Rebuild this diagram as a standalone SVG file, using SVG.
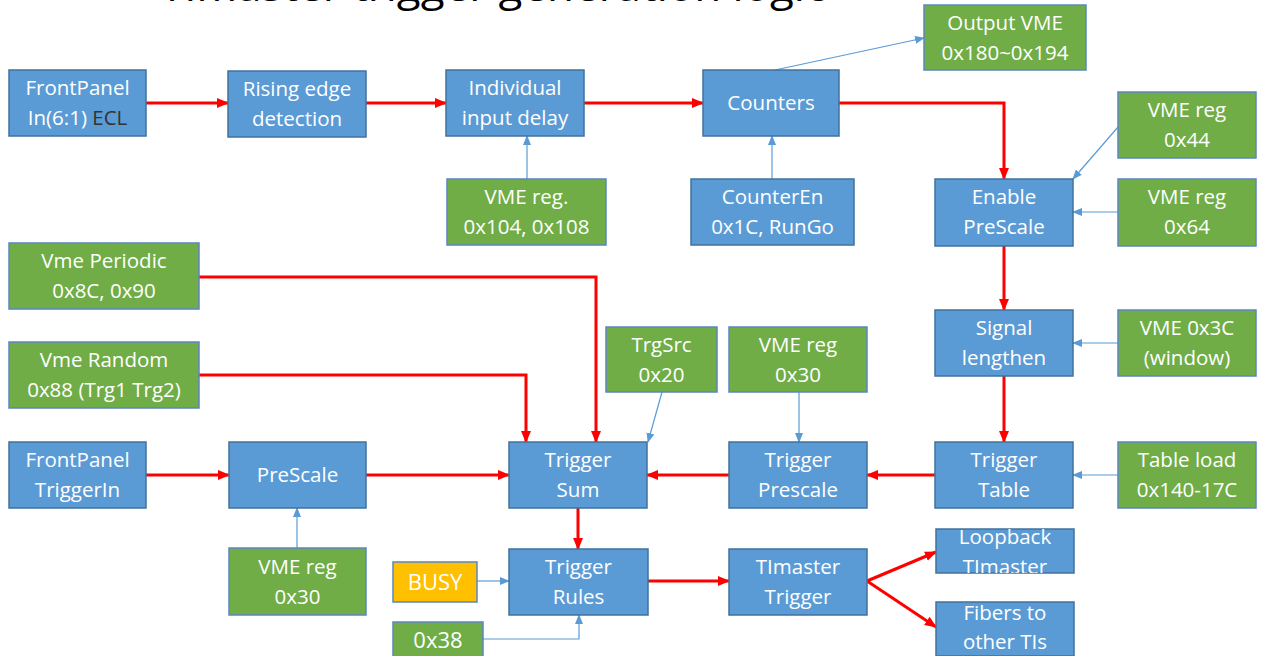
<svg xmlns="http://www.w3.org/2000/svg" width="1261" height="656" viewBox="0 0 1261 656">
<style>
.b{fill:#5B9BD5;stroke:#41719C;stroke-width:1.5}
.g{fill:#70AD47;stroke:#5B86C0;stroke-width:1.5}
.o{fill:#FFC000;stroke:#5B86C0;stroke-width:1.5}
.t{font-family:"Open Sans","Liberation Sans",sans-serif;font-size:20.5px;fill:#fff;text-anchor:middle}
.r{fill:none;stroke:#FF0000;stroke-width:3}
.l{fill:none;stroke:#5B9BD5;stroke-width:1.2}
.title{font-family:"Open Sans","Liberation Sans",sans-serif;font-size:40px;fill:#000}
</style>
<defs>
<marker id="ra" markerUnits="userSpaceOnUse" markerWidth="12" markerHeight="12" viewBox="0 0 12 12" refX="11" refY="6" orient="auto"><path d="M0,1 L12,6 L0,11 Z" fill="#FF0000"/></marker>
<marker id="ba" markerUnits="userSpaceOnUse" markerWidth="10" markerHeight="10" viewBox="0 0 10 10" refX="9" refY="5" orient="auto"><path d="M0,1 L10,5 L0,9 Z" fill="#5B9BD5"/></marker>
<clipPath id="cLoop"><rect x="936" y="529" width="138" height="44"/></clipPath>
<clipPath id="cFib"><rect x="936" y="602" width="138" height="54"/></clipPath>
</defs>
<rect width="1261" height="656" fill="#fff"/>
<text class="title" x="160" y="0.5" textLength="666" lengthAdjust="spacingAndGlyphs">TImaster trigger generation logic</text>

<g id="connectors">
<path class="r" marker-end="url(#ra)" d="M146,103 H228"/>
<path class="r" marker-end="url(#ra)" d="M366,103 H446"/>
<path class="r" marker-end="url(#ra)" d="M584,103 H703"/>
<path class="r" marker-end="url(#ra)" d="M839,103 H1004 V179"/>
<path class="r" marker-end="url(#ra)" d="M1004,246 V310"/>
<path class="r" marker-end="url(#ra)" d="M1004,376 V442"/>
<path class="r" marker-end="url(#ra)" d="M935,475 H867"/>
<path class="r" marker-end="url(#ra)" d="M729,475 H647"/>
<path class="r" marker-end="url(#ra)" d="M199,277 H596 V442"/>
<path class="r" marker-end="url(#ra)" d="M199,375 H526 V442"/>
<path class="r" marker-end="url(#ra)" d="M146,475 H229"/>
<path class="r" marker-end="url(#ra)" d="M366,475 H509"/>
<path class="r" marker-end="url(#ra)" d="M578,508 V549"/>
<path class="r" marker-end="url(#ra)" d="M648,581 H729"/>
<path class="r" marker-end="url(#ra)" d="M867,581 L936,552"/>
<path class="r" marker-end="url(#ra)" d="M867,581 L936,627"/>
<path class="l" marker-end="url(#ba)" d="M775,70 L924,38"/>
<path class="l" marker-end="url(#ba)" d="M527,179 V136"/>
<path class="l" marker-end="url(#ba)" d="M772,179 V136"/>
<path class="l" marker-end="url(#ba)" d="M1118,127 L1073,179"/>
<path class="l" marker-end="url(#ba)" d="M1118,212 H1073"/>
<path class="l" marker-end="url(#ba)" d="M1118,343 H1073"/>
<path class="l" marker-end="url(#ba)" d="M1118,475 H1073"/>
<path class="l" marker-end="url(#ba)" d="M662,392 L648,442"/>
<path class="l" marker-end="url(#ba)" d="M799,392 V442"/>
<path class="l" marker-end="url(#ba)" d="M297,548 V508"/>
<path class="l" marker-end="url(#ba)" d="M477,581 H509"/>
<path class="l" marker-end="url(#ba)" d="M483,639 H579 V615"/>
</g>

<g id="fp_in"><rect class="b" x="9" y="70" width="137" height="66"/><text class="t" x="77.5" y="95">FrontPanel</text><text class="t" x="77.5" y="125">In(6:1) <tspan fill="#333">ECL</tspan></text></g>
<g id="rising"><rect class="b" x="228" y="71" width="138" height="66"/><text class="t" x="297" y="96">Rising edge</text><text class="t" x="297" y="126">detection</text></g>
<g id="indiv"><rect class="b" x="446" y="70" width="138" height="66"/><text class="t" x="515" y="95">Individual</text><text class="t" x="515" y="125">input delay</text></g>
<g id="counters"><rect class="b" x="703" y="70" width="136" height="66"/><text class="t" x="771" y="110">Counters</text></g>
<g id="outvme"><rect class="g" x="924" y="5" width="162" height="65"/><text class="t" x="1005" y="30">Output VME</text><text class="t" x="1005" y="60">0x180~0x194</text></g>
<g id="vme104"><rect class="g" x="447" y="179" width="159" height="66"/><text class="t" x="526.5" y="204">VME reg.</text><text class="t" x="526.5" y="234">0x104, 0x108</text></g>
<g id="counteren"><rect class="b" x="691" y="179" width="163" height="66"/><text class="t" x="772.5" y="204">CounterEn</text><text class="t" x="772.5" y="234">0x1C, RunGo</text></g>
<g id="vme44"><rect class="g" x="1118" y="92" width="138" height="66"/><text class="t" x="1187" y="117">VME reg</text><text class="t" x="1187" y="147">0x44</text></g>
<g id="enable"><rect class="b" x="935" y="179" width="138" height="67"/><text class="t" x="1004" y="204">Enable</text><text class="t" x="1004" y="234">PreScale</text></g>
<g id="vme64"><rect class="g" x="1118" y="179" width="138" height="67"/><text class="t" x="1187" y="204">VME reg</text><text class="t" x="1187" y="234">0x64</text></g>
<g id="periodic"><rect class="g" x="9" y="243" width="190" height="66"/><text class="t" x="104" y="268">Vme Periodic</text><text class="t" x="104" y="298">0x8C, 0x90</text></g>
<g id="random"><rect class="g" x="9" y="342" width="190" height="66"/><text class="t" x="104" y="367">Vme Random</text><text class="t" x="104" y="397">0x88 (Trg1 Trg2)</text></g>
<g id="siglen"><rect class="b" x="935" y="310" width="138" height="66"/><text class="t" x="1004" y="335">Signal</text><text class="t" x="1004" y="365">lengthen</text></g>
<g id="vme3c"><rect class="g" x="1118" y="310" width="138" height="66"/><text class="t" x="1187" y="335">VME 0x3C</text><text class="t" x="1187" y="365">(window)</text></g>
<g id="trgsrc"><rect class="g" x="606" y="327" width="111" height="65"/><text class="t" x="661.5" y="352">TrgSrc</text><text class="t" x="661.5" y="382">0x20</text></g>
<g id="vme30a"><rect class="g" x="729" y="327" width="138" height="65"/><text class="t" x="798" y="352">VME reg</text><text class="t" x="798" y="382">0x30</text></g>
<g id="fp_trig"><rect class="b" x="9" y="442" width="137" height="66"/><text class="t" x="77.5" y="467">FrontPanel</text><text class="t" x="77.5" y="497">TriggerIn</text></g>
<g id="prescale"><rect class="b" x="229" y="442" width="137" height="66"/><text class="t" x="297.5" y="482">PreScale</text></g>
<g id="trigsum"><rect class="b" x="509" y="442" width="138" height="66"/><text class="t" x="578" y="467">Trigger</text><text class="t" x="578" y="497">Sum</text></g>
<g id="trigpre"><rect class="b" x="729" y="442" width="138" height="66"/><text class="t" x="798" y="467">Trigger</text><text class="t" x="798" y="497">Prescale</text></g>
<g id="trigtable"><rect class="b" x="935" y="442" width="138" height="66"/><text class="t" x="1004" y="467">Trigger</text><text class="t" x="1004" y="497">Table</text></g>
<g id="tableload"><rect class="g" x="1118" y="442" width="138" height="66"/><text class="t" x="1187" y="467">Table load</text><text class="t" x="1187" y="497">0x140-17C</text></g>
<g id="vme30b"><rect class="g" x="229" y="548" width="137" height="67"/><text class="t" x="297.5" y="574">VME reg</text><text class="t" x="297.5" y="604">0x30</text></g>
<g id="busy"><rect class="o" x="393" y="562" width="84" height="40"/><text class="t" x="435" y="590" style="font-size:22px">BUSY</text></g>
<g id="rules"><rect class="b" x="509" y="549" width="139" height="66"/><text class="t" x="578.5" y="574">Trigger</text><text class="t" x="578.5" y="604">Rules</text></g>
<g id="timaster"><rect class="b" x="729" y="549" width="138" height="66"/><text class="t" x="798" y="574">TImaster</text><text class="t" x="798" y="604">Trigger</text></g>
<g id="loopback"><rect class="b" x="936" y="529" width="138" height="44"/><g clip-path="url(#cLoop)"><text class="t" x="1005" y="544">Loopback</text><text class="t" x="1005" y="574">TImaster</text></g></g>
<g id="fibers"><rect class="b" x="936" y="602" width="138" height="54"/><g clip-path="url(#cFib)"><text class="t" x="1005" y="620">Fibers to</text><text class="t" x="1005" y="649">other TIs</text></g></g>
<g id="x38"><rect class="g" x="393" y="622" width="90" height="40"/><text class="t" x="438" y="648" style="font-size:22px">0x38</text></g>
</svg>
